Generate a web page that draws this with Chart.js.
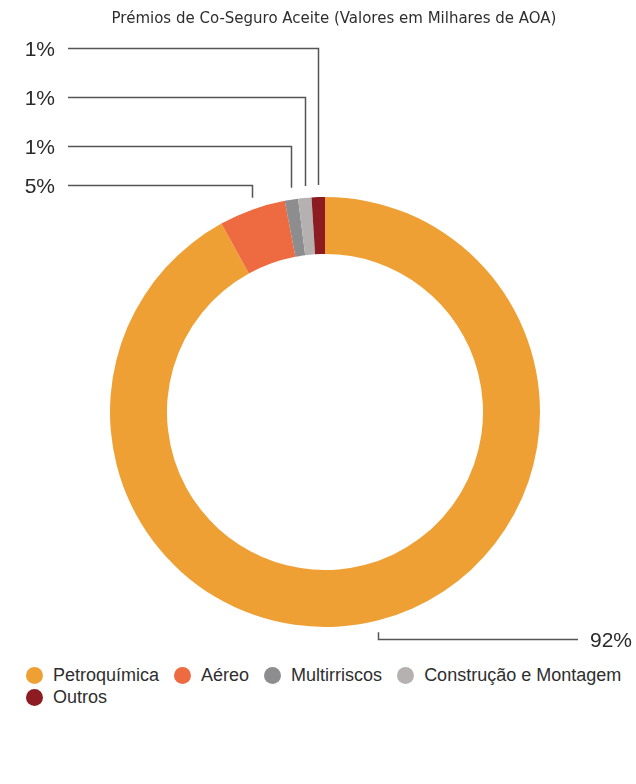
<!DOCTYPE html>
<html lang="pt">
<head>
<meta charset="utf-8">
<title>Prémios de Co-Seguro Aceite</title>
<script src="https://cdn.jsdelivr.net/npm/chart.js@4.4.0/dist/chart.umd.min.js"></script>
<style>
  body { margin: 0; background: #fff; }
  #wrap { position: relative; width: 636px; height: 784px; }
  #title {
    position: absolute; top: 9px; left: 0; width: 636px;
    padding-left: 32px; box-sizing: border-box; text-align: center;
    font: 15px "DejaVu Sans", sans-serif; color: #2e2e2e;
  }
  #chart-box { position: absolute; top: 0; left: 0; width: 636px; height: 660px; }
  #legend {
    position: absolute; top: 664px; left: 26px; width: 614px;
    display: flex; flex-wrap: wrap;
    font: 18px "Liberation Sans", Arial, sans-serif; color: #2e2e2e;
  }
  .item { display: flex; align-items: center; margin-right: 15px; height: 22px; white-space: nowrap; }
  .dot { width: 17px; height: 17px; border-radius: 50%; margin-right: 10px; flex: none; }
</style>
</head>
<body>
<div id="wrap">
  <div id="chart-box"><canvas id="premios"></canvas></div>
  <div id="title">Prémios de Co-Seguro Aceite (Valores em Milhares de AOA)</div>
  <div id="legend"></div>
</div>
<script>
// Co-seguro aceite por ramo (%)
const ramos = ['Petroquímica', 'Aéreo', 'Multirriscos', 'Construção e Montagem', 'Outros'];
const valores = [92, 5, 1, 1, 1];
const cores = ['#EEA034', '#EE6A40', '#8D8C8E', '#B5B1B1', '#8C1C22'];

// where each leader line ends up (row height, line end, text anchor)
const linhas = [
  { y: 639, lineEnd: 578, textX: 590, side: 'right' },
  { y: 185, lineEnd: 68, textX: 55, side: 'left' },
  { y: 146, lineEnd: 68, textX: 55, side: 'left' },
  { y: 97, lineEnd: 68, textX: 55, side: 'left' },
  { y: 48, lineEnd: 68, textX: 55, side: 'left' }
];

const total = valores.reduce((a, b) => a + b, 0);
const percentagens = valores.map(v => Math.round(v / total * 100) + '%');

// elbow lines from each slice to its percentage
const leaderLabels = {
  id: 'leaderLabels',
  afterDatasetsDraw(chart, args, opts) {
    const ctx = chart.ctx;
    const arcs = chart.getDatasetMeta(0).data;
    ctx.save();
    ctx.strokeStyle = opts.lineColor;
    ctx.lineWidth = opts.lineWidth;
    ctx.fillStyle = opts.color;
    ctx.font = opts.font;
    ctx.textBaseline = 'middle';
    linhas.forEach((row, i) => {
      const p = arcs[i].getProps(['x', 'y', 'startAngle', 'endAngle', 'outerRadius'], true);
      const mid = (p.startAngle + p.endAngle) / 2;
      const ax = Math.round(p.x + Math.cos(mid) * p.outerRadius) + 0.5;
      const ay = p.y + Math.sin(mid) * p.outerRadius;
      const dir = ay < p.y ? -1 : 1;
      ctx.beginPath();
      ctx.moveTo(ax, ay + dir * opts.gap);
      ctx.lineTo(ax, row.y + 0.5);
      ctx.lineTo(row.lineEnd, row.y + 0.5);
      ctx.stroke();
      ctx.textAlign = row.side === 'left' ? 'right' : 'left';
      ctx.fillText(percentagens[i], row.textX, row.y + 2);
    });
    ctx.restore();
  }
};

const chart = new Chart(document.getElementById('premios'), {
  type: 'doughnut',
  data: {
    labels: ramos,
    datasets: [{
      data: valores,
      backgroundColor: cores,
      borderWidth: 0
    }]
  },
  options: {
    responsive: true,
    maintainAspectRatio: false,
    animation: false,
    cutout: '73.5%',
    layout: { padding: { top: 197, bottom: 33, left: 110, right: 96 } },
    plugins: {
      legend: { display: false },
      tooltip: { enabled: false },
      leaderLabels: {
        lineColor: '#555',
        lineWidth: 1.5,
        color: '#2a2a2a',
        font: '21px "Liberation Sans", Arial, sans-serif',
        gap: 12
      }
    }
  },
  plugins: [leaderLabels]
});

// html legend built from the chart's own legend items
const legendBox = document.getElementById('legend');
chart.options.plugins.legend.labels.generateLabels(chart).forEach(item => {
  const el = document.createElement('div');
  el.className = 'item';
  const dot = document.createElement('span');
  dot.className = 'dot';
  dot.style.background = item.fillStyle;
  const txt = document.createElement('span');
  txt.textContent = item.text;
  el.appendChild(dot);
  el.appendChild(txt);
  legendBox.appendChild(el);
});
</script>
</body>
</html>
